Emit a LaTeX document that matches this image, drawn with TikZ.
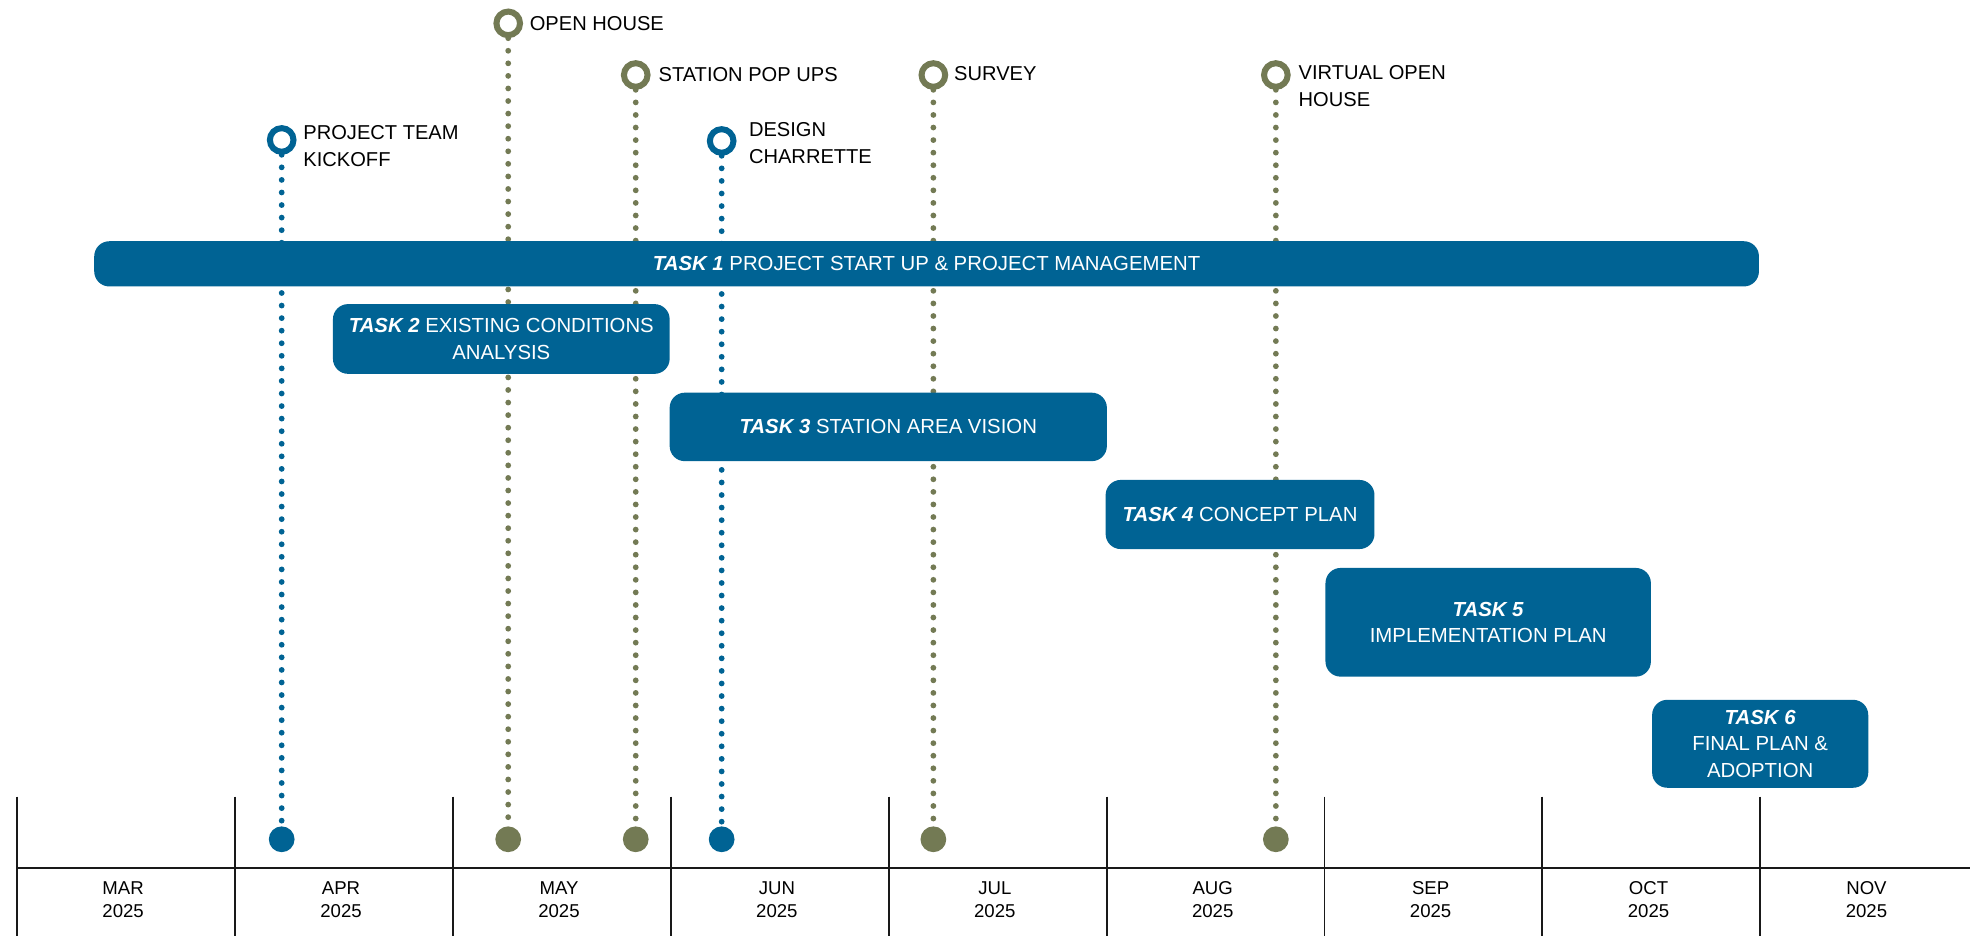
\documentclass[tikz,border=0pt]{standalone}
\usepackage{fontspec}
\setmainfont{Liberation Sans}
\pgfdeclarelayer{bg}
\pgfsetlayers{bg,main}
\definecolor{tblue}{RGB}{0,99,148}
\definecolor{tolive}{RGB}{115,122,84}
\tikzset{
  bar/.style={fill=tblue, rounded corners=12pt, text=white, inner sep=0pt, align=center,
    font=\fontsize{16.2}{21}\selectfont},
  ring/.style={circle, draw=#1, fill=white, line width=4.8pt, minimum size=18.8pt, inner sep=0pt},
  enddot/.style={circle, fill=#1, minimum size=20.5pt, inner sep=0pt},
  dotline/.style={draw=#1, line width=4.6pt, line cap=round, dash pattern=on 0pt off 10pt},
  mlabel/.style={anchor=west, inner sep=0pt, align=left, font=\fontsize{16}{21.3}\selectfont},
  monthlabel/.style={align=center, inner sep=0pt, font=\fontsize{14.8}{18}\selectfont},
  gridline/.style={line width=1.5pt, black!90},
}
\newcommand{\tk}[1]{\textbf{\textit{#1}}}
\begin{document}
\begin{tikzpicture}[x=1pt, y=-1pt]
\useasboundingbox (0,0) rectangle (1568,745);

% milestones: rings and labels
\node[ring=tblue]  (m1) at (224.2,111.4) {};
\node[mlabel] (l1) at (241.3,116.3) {PROJECT TEAM\\KICKOFF};
\node[ring=tolive] (m2) at (404.5,18.6) {};
\node[mlabel] (l2) at (421.5,18.8) {OPEN HOUSE};
\node[ring=tolive] (m3) at (506,59.7) {};
\node[mlabel] (l3) at (524,59.5) {STATION POP UPS};
\node[ring=tblue]  (m4) at (574.4,112.2) {};
\node[mlabel] (l4) at (596,113.7) {DESIGN\\CHARRETTE};
\node[ring=tolive] (m5) at (742.9,59.7) {};
\node[mlabel] (l5) at (759.3,58.8) {SURVEY};
\node[ring=tolive] (m6) at (1015.5,59.7) {};
\node[mlabel] (l6) at (1033.5,68.4) {VIRTUAL OPEN\\HOUSE};

% end dots
\node[enddot=tblue]  (d1) at (224.2,668) {};
\node[enddot=tolive] (d2) at (404.5,668) {};
\node[enddot=tolive] (d3) at (506,668) {};
\node[enddot=tblue]  (d4) at (574.4,668) {};
\node[enddot=tolive] (d5) at (742.9,668) {};
\node[enddot=tolive] (d6) at (1015.5,668) {};

\begin{pgfonlayer}{bg}
\draw[dotline=tblue]  (m1) -- (d1);
\draw[dotline=tolive] (m2) -- (d2);
\draw[dotline=tolive] (m3) -- (d3);
\draw[dotline=tblue]  (m4) -- (d4);
\draw[dotline=tolive] (m5) -- (d5);
\draw[dotline=tolive] (m6) -- (d6);
\end{pgfonlayer}

% task bars
\node[bar, minimum width=1325pt, minimum height=36pt] (t1) at (737.5,210)
  {\tk{TASK 1} PROJECT START UP \& PROJECT MANAGEMENT};
\node[bar, minimum width=268pt, minimum height=55.5pt] (t2) at (399,269.8)
  {\tk{TASK 2} EXISTING CONDITIONS\\ANALYSIS};
\node[bar, minimum width=348pt, minimum height=54.5pt] (t3) at (707,339.8)
  {\tk{TASK 3} STATION AREA VISION};
\node[bar, minimum width=214pt, minimum height=55pt] (t4) at (987,409.5)
  {\tk{TASK 4} CONCEPT PLAN};
\node[bar, minimum width=259pt, minimum height=86.5pt] (t5) at (1184.5,495.3)
  {\tk{TASK 5}\\IMPLEMENTATION PLAN};
\node[bar, minimum width=172pt, minimum height=70pt] (t6) at (1401,592)
  {\tk{TASK 6}\\FINAL PLAN \&\\ADOPTION};

% timeline
\draw[gridline] (13.5,690.6) -- (1568,690.6);
\foreach \i in {0,...,8} {
  \draw[gridline] ({13.5+173.45*\i},634) -- ({13.5+173.45*\i},745);
}
\foreach \m [count=\i from 0] in {MAR,APR,MAY,JUN,JUL,AUG,SEP,OCT,NOV} {
  \node[monthlabel] (mo\i) at ({13.5+173.45*\i+84.5},716) {\m\\2025};
}
\end{tikzpicture}
\end{document}
